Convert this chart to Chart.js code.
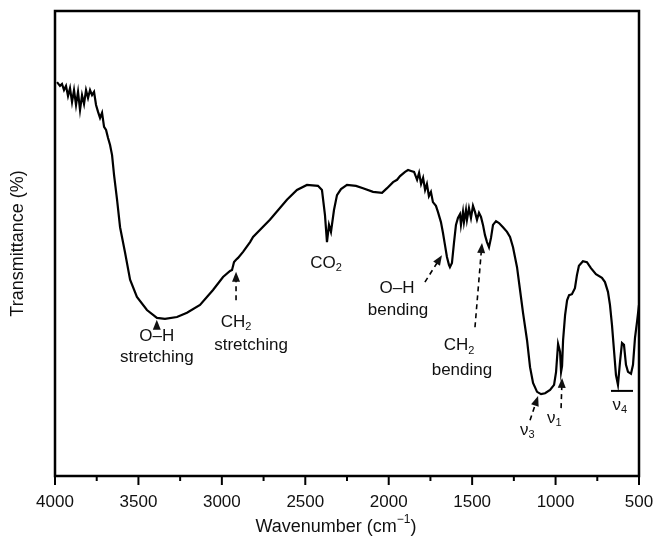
<!DOCTYPE html>
<html>
<head>
<meta charset="utf-8">
<script src="https://cdn.jsdelivr.net/npm/chart.js@4.4.1/dist/chart.umd.min.js"></script>
<style>
  html, body { margin: 0; padding: 0; background: #ffffff; }
  #wrap { width: 658px; height: 541px; }
</style>
</head>
<body>
<div id="wrap"><canvas id="c" width="658" height="541"></canvas></div>
<script>
// ---- data ----
const wavenumbers = [
  3988,3970,3958,3946,3934,3922,3910,3898,3886,3874,
  3862,3850,3838,3826,3814,3802,3790,3778,3766,3754,
  3742,3730,3718,3706,3694,3682,3670,3658,3646,3628,
  3610,3580,3550,3509,3449,3389,3341,3269,3209,3131,
  3053,2993,2951,2939,2927,2915,2903,2873,2831,2813,
  2712,2610,2550,2490,2424,2400,2382,2370,2358,2346,
  2328,2310,2286,2250,2196,2154,2094,2040,2010,1974,
  1950,1932,1902,1884,1866,1848,1830,1818,1806,1794,
  1782,1771,1759,1747,1735,1717,1705,1687,1675,1663,
  1651,1639,1633,1621,1609,1597,1585,1573,1567,1555,
  1549,1537,1531,1519,1507,1495,1483,1471,1459,1447,
  1435,1423,1411,1399,1387,1375,1357,1339,1315,1291,
  1273,1255,1231,1213,1195,1171,1153,1135,1111,1087,
  1063,1033,1009,997,985,973,967,961,955,943,
  931,919,902,884,872,860,836,812,788,758,
  722,704,686,674,662,650,638,626,614,602,
  590,578,566,548,536,524,512,500
];
const transmittance = [
  84.7,83.9,84.3,83.0,83.9,81.7,83.4,80.4,83.0,79.8,
  82.6,78.7,81.9,80.0,83.0,81.3,83.0,81.9,82.6,79.8,
  78.3,77.0,78.1,75.1,74.4,72.7,71.2,69.0,64.7,59.4,
  53.5,48.0,42.2,38.5,35.7,34.0,33.8,34.2,35.1,36.8,
  40.0,42.8,44.1,44.3,46.0,46.5,46.9,48.2,50.3,51.4,
  55.1,59.4,61.5,62.6,62.4,61.5,56.1,50.3,54.0,52.5,
  57.2,60.4,61.7,62.6,62.4,61.9,61.1,60.9,61.9,63.2,
  63.7,64.5,65.4,65.8,65.6,65.4,63.7,65.2,62.8,64.1,
  61.5,62.8,60.2,61.1,58.9,58.1,56.8,54.6,52.3,49.7,
  47.1,45.4,44.9,45.8,50.1,54.0,55.5,56.3,54.0,56.8,
  54.6,57.2,55.1,57.6,55.5,58.1,56.8,55.1,56.6,55.7,
  54.0,51.8,50.3,49.2,51.2,54.0,54.8,54.4,53.5,52.5,
  51.4,49.2,44.9,40.0,35.1,29.2,23.4,20.0,18.1,17.6,
  17.8,18.5,19.6,22.4,28.4,26.7,22.4,23.7,29.2,34.6,
  37.8,38.9,39.1,40.4,43.2,45.2,46.2,46.0,44.7,43.4,
  42.6,41.7,39.6,36.8,32.5,27.1,21.7,19.6,24.5,28.6,
  28.2,23.9,22.4,22.0,23.9,29.7,33.1,36.8
];
const majorTicks = [4000,3500,3000,2500,2000,1500,1000,500];
const minorTicks = [3750,3250,2750,2250,1750,1250,750];
const xTitle = "Wavenumber (cm";
const xTitleSup = "\u22121";
const yTitle = "Transmittance (%)";

// ---- annotations (positions in data units) ----
const FONT = "'Liberation Sans', Arial, Helvetica, sans-serif";
const labels = [
  { parts: [["O\u2013H"]], x: 3390, y: 30.1 },
  { parts: [["stretching"]], x: 3390, y: 25.6 },
  { parts: [["CH"],["2","sub"]], x: 2915, y: 33.1 },
  { parts: [["stretching"]], x: 2825, y: 28.2 },
  { parts: [["CO"],["2","sub"]], x: 2376, y: 45.8 },
  { parts: [["O\u2013H"]], x: 1950, y: 40.4 },
  { parts: [["bending"]], x: 1944, y: 35.7 },
  { parts: [["CH"],["2","sub"]], x: 1579, y: 28.0 },
  { parts: [["bending"]], x: 1561, y: 22.8 },
  { parts: [["\u03BD"],["3","sub"]], x: 1170, y: 9.9 },
  { parts: [["\u03BD"],["1","sub"]], x: 1008, y: 12.5 },
  { parts: [["\u03BD"],["4","sub"]], x: 615, y: 15.3 }
];
const arrows = [
  { x0: 3390, y0: 31.8, x1: 3390, y1: 33.6, dashed: false },
  { x0: 2915, y0: 37.8, x1: 2915, y1: 43.9, dashed: true },
  { x0: 1783, y0: 41.7, x1: 1681, y1: 47.5, dashed: true },
  { x0: 1483, y0: 32.0, x1: 1441, y1: 50.1, dashed: true },
  { x0: 1153, y0: 12.0, x1: 1105, y1: 17.2, dashed: true },
  { x0: 967,  y0: 14.6, x1: 961,  y1: 21.1, dashed: true }
];
const bars = [ { x0: 668, x1: 536, y: 18.3 } ];

function drawRich(ctx, parts, cx, cy, size) {
  let w = 0;
  const segs = parts.map(p => {
    const sub = p[1] === "sub", sup = p[1] === "sup";
    const fs = (sub || sup) ? Math.round(size * 0.66) : size;
    ctx.font = fs + "px " + FONT;
    const m = ctx.measureText(p[0]).width;
    w += m;
    return { t: p[0], fs, m, dy: sub ? size * 0.3 : (sup ? -size * 0.38 : 0) };
  });
  let x = cx - w / 2;
  ctx.textAlign = "left";
  ctx.textBaseline = "middle";
  segs.forEach(s => {
    ctx.font = s.fs + "px " + FONT;
    ctx.fillText(s.t, x, cy + s.dy);
    x += s.m;
  });
}

function arrowHead(ctx, x0, y0, x1, y1) {
  const ang = Math.atan2(y1 - y0, x1 - x0);
  const L = 10, W = 4;
  ctx.beginPath();
  ctx.moveTo(x1, y1);
  ctx.lineTo(x1 - L * Math.cos(ang) + W * Math.sin(ang), y1 - L * Math.sin(ang) - W * Math.cos(ang));
  ctx.lineTo(x1 - L * Math.cos(ang) - W * Math.sin(ang), y1 - L * Math.sin(ang) + W * Math.cos(ang));
  ctx.closePath();
  ctx.fill();
}

const decor = {
  id: "decor",
  afterDraw(chart) {
    const ctx = chart.ctx, xs = chart.scales.x, ys = chart.scales.y, a = chart.chartArea;
    ctx.save();
    ctx.strokeStyle = "#000"; ctx.fillStyle = "#111";
    // frame
    ctx.lineWidth = 2.5;
    ctx.strokeRect(a.left, a.top, a.right - a.left, a.bottom - a.top);
    // ticks
    ctx.lineWidth = 2;
    majorTicks.forEach(v => {
      const px = xs.getPixelForValue(v);
      ctx.beginPath(); ctx.moveTo(px, a.bottom); ctx.lineTo(px, a.bottom + 9); ctx.stroke();
    });
    minorTicks.forEach(v => {
      const px = xs.getPixelForValue(v);
      ctx.beginPath(); ctx.moveTo(px, a.bottom); ctx.lineTo(px, a.bottom + 5); ctx.stroke();
    });
    // axis titles
    drawRich(ctx, [[xTitle],[xTitleSup,"sup"],[")"]], 336, 527, 18);
    ctx.save();
    ctx.translate(18, (a.top + a.bottom) / 2);
    ctx.rotate(-Math.PI / 2);
    ctx.font = "18px " + FONT; ctx.textAlign = "center"; ctx.textBaseline = "middle";
    ctx.fillText(yTitle, 0, 0);
    ctx.restore();
    // labels
    labels.forEach(l => drawRich(ctx, l.parts, xs.getPixelForValue(l.x), ys.getPixelForValue(l.y), 17));
    // arrows
    ctx.lineWidth = 1.6;
    arrows.forEach(r => {
      const x0 = xs.getPixelForValue(r.x0), y0 = ys.getPixelForValue(r.y0);
      const x1 = xs.getPixelForValue(r.x1), y1 = ys.getPixelForValue(r.y1);
      if (r.dashed) {
        const ang = Math.atan2(y1 - y0, x1 - x0);
        ctx.setLineDash([5, 4]);
        ctx.beginPath(); ctx.moveTo(x0, y0);
        ctx.lineTo(x1 - 9 * Math.cos(ang), y1 - 9 * Math.sin(ang)); ctx.stroke();
        ctx.setLineDash([]);
      }
      arrowHead(ctx, x0, y0, x1, y1);
    });
    ctx.lineWidth = 2;
    bars.forEach(b => {
      const y = ys.getPixelForValue(b.y);
      ctx.beginPath(); ctx.moveTo(xs.getPixelForValue(b.x0), y); ctx.lineTo(xs.getPixelForValue(b.x1), y); ctx.stroke();
    });
    ctx.restore();
  }
};

new Chart(document.getElementById("c"), {
  type: "line",
  data: {
    datasets: [{
      data: wavenumbers.map((w, i) => ({ x: w, y: transmittance[i] })),
      borderColor: "#000",
      borderWidth: 2.2,
      pointRadius: 0,
      tension: 0,
      fill: false
    }]
  },
  options: {
    responsive: false,
    animation: false,
    devicePixelRatio: 1,
    layout: { padding: { top: 11, right: 19, left: 0, bottom: 0 } },
    plugins: { legend: { display: false }, tooltip: { enabled: false } },
    scales: {
      x: {
        type: "linear", reverse: true, min: 500, max: 4000,
        grid: { display: false, drawTicks: false },
        border: { display: false },
        ticks: {
          stepSize: 500, color: "#111", font: { family: FONT, size: 17 }, padding: 16, maxRotation: 0,
          callback: v => String(v)
        },
        afterFit(s) { s.height = 65; s.paddingLeft = 0; s.paddingRight = 0; }
      },
      y: {
        min: 0, max: 100,
        grid: { display: false, drawTicks: false },
        border: { display: false },
        ticks: { display: false },
        afterFit(s) { s.width = 55; s.paddingTop = 0; s.paddingBottom = 0; }
      }
    }
  },
  plugins: [decor]
});
</script>
</body>
</html>
